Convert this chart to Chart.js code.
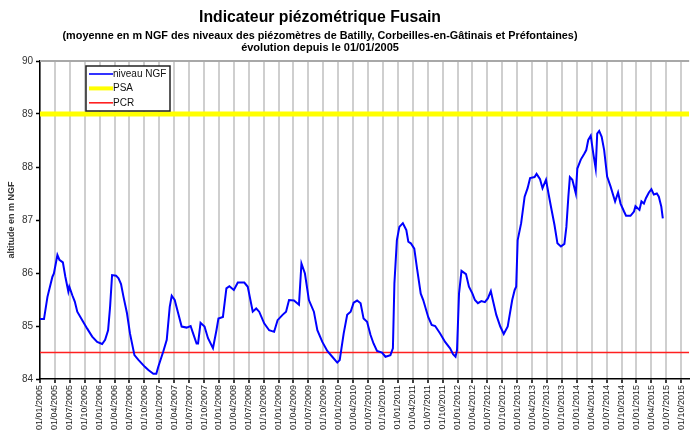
<!DOCTYPE html>
<html>
<head>
<meta charset="utf-8">
<script src="https://cdn.jsdelivr.net/npm/chart.js@4.4.0/dist/chart.umd.min.js"></script>
<style>
  html, body { margin: 0; padding: 0; background: #fff; }
  #wrap { width: 694px; height: 435px; position: relative; }
</style>
</head>
<body>
<div id="wrap"><canvas id="chart"></canvas></div>
<script>
const titleLines = [
  'Indicateur piézométrique Fusain',
  '(moyenne en m NGF des niveaux des piézomètres de Batilly, Corbeilles-en-Gâtinais et Préfontaines)',
  'évolution depuis le 01/01/2005'
];

const tickLabels = [
  '01/01/2005', '01/04/2005', '01/07/2005', '01/10/2005',
  '01/01/2006', '01/04/2006', '01/07/2006', '01/10/2006',
  '01/01/2007', '01/04/2007', '01/07/2007', '01/10/2007',
  '01/01/2008', '01/04/2008', '01/07/2008', '01/10/2008',
  '01/01/2009', '01/04/2009', '01/07/2009', '01/10/2009',
  '01/01/2010', '01/04/2010', '01/07/2010', '01/10/2010',
  '01/01/2011', '01/04/2011', '01/07/2011', '01/10/2011',
  '01/01/2012', '01/04/2012', '01/07/2012', '01/10/2012',
  '01/01/2013', '01/04/2013', '01/07/2013', '01/10/2013',
  '01/01/2014', '01/04/2014', '01/07/2014', '01/10/2014',
  '01/01/2015', '01/04/2015', '01/07/2015', '01/10/2015'
];

// months elapsed since 01/01/2005
const months = [
  0, 0.8, 1.5, 2.5, 2.8, 3.5, 3.9, 4.6, 5.1, 5.7, 5.9, 6.5, 7, 7.5, 8.5, 9.5, 10.5, 11.5, 12.5, 13.1,
  13.7, 14.1, 14.5, 15.3, 15.8, 16.3, 16.8, 17.5, 18.1, 19, 19.8, 21.1, 21.8, 22.8, 23.4, 23.8, 24.8, 25.5, 26.1, 26.5,
  27.1, 27.8, 28.5, 29.5, 30.3, 30.8, 31.5, 31.8, 32.3, 33.1, 33.8, 34.8, 35.5, 35.9, 36.8, 37.5, 38.1, 39, 39.8, 41.1,
  41.8, 42.8, 43.5, 44.1, 45.1, 46.1, 47.1, 47.8, 48.8, 49.5, 50.1, 51.1, 52.1, 52.6, 53.3, 54.1, 55.1, 55.8, 56.8, 57.8,
  58.8, 59.8, 60.3, 61.1, 61.8, 62.5, 63.1, 63.8, 64.5, 65.1, 65.8, 66.5, 67.1, 67.8, 68.8, 69.5, 70.5, 71, 71.3, 71.8,
  72.3, 73, 73.7, 74.1, 74.6, 75.3, 75.8, 76.6, 77.1, 78.1, 78.8, 79.5, 80.5, 81.5, 82.5, 83.1, 83.6, 83.9, 84.3, 84.8,
  85.7, 86.3, 87, 87.5, 88.1, 88.8, 89.5, 90.1, 90.7, 91.1, 91.8, 92.6, 93.3, 94.1, 95, 95.5, 95.8, 96.1, 96.8, 97.5,
  98.1, 98.6, 99.5, 99.9, 100.6, 101.1, 101.8, 102.3, 102.8, 103.5, 104.1, 104.8, 105.5, 105.9, 106.3, 106.6, 107.1, 107.8, 108.1, 108.8,
  109.5, 109.9, 110.3, 110.8, 111.3, 111.8, 112.1, 112.5, 113, 113.5, 114.1, 114.8, 115.7, 116.3, 116.8, 117.5, 117.9, 118.8, 119.5, 119.8,
  120.6, 121, 121.5, 121.9, 122.5, 123, 123.5, 124.1, 124.5, 125, 125.3
];

const niveau = [
  85.13, 85.13, 85.55, 85.93, 85.99, 86.34, 86.25, 86.2, 85.93, 85.65, 85.74, 85.58, 85.46, 85.27, 85.11, 84.95, 84.8, 84.7, 84.66, 84.74,
  84.92, 85.36, 85.96, 85.95, 85.9, 85.79, 85.55, 85.24, 84.86, 84.45, 84.36, 84.23, 84.17, 84.1, 84.1, 84.23, 84.52, 84.74, 85.36, 85.57,
  85.49, 85.24, 84.99, 84.97, 85.0, 84.86, 84.67, 84.67, 85.06, 84.99, 84.77, 84.58, 84.92, 85.14, 85.17, 85.71, 85.75, 85.68, 85.82, 85.82,
  85.74, 85.27, 85.33, 85.27, 85.05, 84.92, 84.89, 85.11, 85.21, 85.27, 85.49, 85.48, 85.4, 86.18, 85.99, 85.49, 85.27, 84.92, 84.7, 84.53,
  84.42, 84.31, 84.36, 84.86, 85.21, 85.27, 85.44, 85.48, 85.43, 85.14, 85.08, 84.83, 84.67, 84.53, 84.5, 84.42, 84.45, 84.58, 85.8, 86.62,
  86.87, 86.94, 86.81, 86.59, 86.56, 86.46, 86.12, 85.61, 85.49, 85.17, 85.02, 85.0, 84.86, 84.7, 84.58, 84.47, 84.42, 84.55, 85.61, 86.04,
  85.98, 85.74, 85.61, 85.49, 85.43, 85.47, 85.45, 85.52, 85.66, 85.49, 85.21, 84.99, 84.85, 84.99, 85.49, 85.68, 85.74, 86.62, 86.94, 87.44,
  87.6, 87.79, 87.81, 87.87, 87.77, 87.6, 87.76, 87.5, 87.25, 86.91, 86.56, 86.5, 86.55, 86.87, 87.44, 87.81, 87.76, 87.5, 87.97, 88.14,
  88.25, 88.32, 88.51, 88.59, 88.26, 87.97, 88.63, 88.68, 88.57, 88.32, 87.82, 87.63, 87.35, 87.52, 87.31, 87.16, 87.08, 87.08, 87.16, 87.26,
  87.19, 87.35, 87.31, 87.41, 87.52, 87.58, 87.48, 87.5, 87.44, 87.25, 87.03
];

const psa = 89;
const pcr = 84.5;

const xMax = 130.6;
const sans = '"Liberation Sans", Arial, sans-serif';

const titres = {
  id: 'titres',
  afterDraw(chart) {
    const ctx = chart.ctx;
    ctx.save();
    ctx.fillStyle = '#000';
    ctx.textAlign = 'center';
    ctx.textBaseline = 'middle';
    ctx.font = 'bold 16px ' + sans;
    ctx.fillText(titleLines[0], 320, 18, 242);
    ctx.font = 'bold 11px ' + sans;
    ctx.fillText(titleLines[1], 320, 36, 515);
    ctx.fillText(titleLines[2], 320, 48);
    ctx.restore();
  }
};

const cadre = {
  id: 'cadre',
  beforeDatasetsDraw(chart) {
    const { ctx, chartArea } = chart;
    ctx.save();
    ctx.strokeStyle = '#a8a8a8';
    ctx.lineWidth = 2;
    ctx.beginPath();
    ctx.moveTo(chartArea.left, chartArea.top);
    ctx.lineTo(chartArea.right, chartArea.top);
    ctx.stroke();
    ctx.restore();
  }
};

const legendeBox = {
  id: 'legendeBox',
  afterDraw(chart) {
    const { ctx, chartArea } = chart;
    const x = chartArea.left + 46, y = chartArea.top + 5, w = 84, h = 45;
    const widths = [1.6, 4, 1.6];
    ctx.save();
    ctx.fillStyle = '#fff';
    ctx.fillRect(x, y, w, h);
    ctx.strokeStyle = '#222';
    ctx.lineWidth = 1.5;
    ctx.strokeRect(x, y, w, h);
    ctx.font = '10px ' + sans;
    ctx.textBaseline = 'middle';
    chart.data.datasets.forEach((ds, i) => {
      const ly = y + 8 + i * 14.4;
      ctx.strokeStyle = ds.borderColor;
      ctx.lineWidth = widths[i];
      ctx.beginPath();
      ctx.moveTo(x + 3, ly);
      ctx.lineTo(x + 27, ly);
      ctx.stroke();
      ctx.fillStyle = '#111';
      ctx.fillText(ds.label, x + 27, ly);
    });
    ctx.restore();
  }
};

new Chart(document.getElementById('chart'), {
  type: 'line',
  data: {
    datasets: [
      {
        label: 'niveau NGF',
        data: months.map((m, i) => ({ x: m, y: niveau[i] })),
        borderColor: '#0000ff',
        borderWidth: 2,
        pointRadius: 0,
        tension: 0
      },
      {
        label: 'PSA',
        data: [{ x: 0, y: psa }, { x: xMax, y: psa }],
        borderColor: '#ffff00',
        borderWidth: 5,
        pointRadius: 0
      },
      {
        label: 'PCR',
        data: [{ x: 0, y: pcr }, { x: xMax, y: pcr }],
        borderColor: '#ff2020',
        borderWidth: 1.6,
        pointRadius: 0
      }
    ]
  },
  options: {
    responsive: true,
    maintainAspectRatio: false,
    animation: false,
    layout: { padding: { top: 61, right: 0, bottom: 0, left: 0 } },
    plugins: {
      legend: { display: false },
      title: { display: false },
      tooltip: { enabled: false }
    },
    scales: {
      x: {
        type: 'linear',
        min: 0,
        max: xMax,
        afterBuildTicks: (scale) => {
          scale.ticks = tickLabels.map((_, i) => ({ value: i * 3 }));
        },
        afterFit: (scale) => { scale.height = 56; },
        grid: {
          color: '#cfcfcf',
          lineWidth: 2,
          tickColor: '#000',
          tickLength: 4,
          tickWidth: 1.5
        },
        border: { color: '#000', width: 1.5 },
        ticks: {
          autoSkip: false,
          minRotation: 90,
          maxRotation: 90,
          padding: 2,
          color: '#222',
          font: { family: sans, size: 9 },
          callback: (value, index) => tickLabels[index]
        }
      },
      y: {
        min: 84,
        max: 90,
        afterFit: (scale) => { scale.width = 40; },
        grid: {
          drawOnChartArea: false,
          tickColor: '#000',
          tickLength: 4,
          tickWidth: 1.5
        },
        border: { color: '#000', width: 1.5 },
        ticks: {
          stepSize: 1,
          padding: 3,
          color: '#333',
          font: { family: sans, size: 10 }
        },
        title: {
          display: true,
          text: 'altitude en m NGF',
          color: '#333',
          padding: { top: 6, bottom: 0 },
          font: { family: sans, size: 9, weight: 'bold' }
        }
      }
    }
  },
  plugins: [titres, cadre, legendeBox]
});
</script>
</body>
</html>
